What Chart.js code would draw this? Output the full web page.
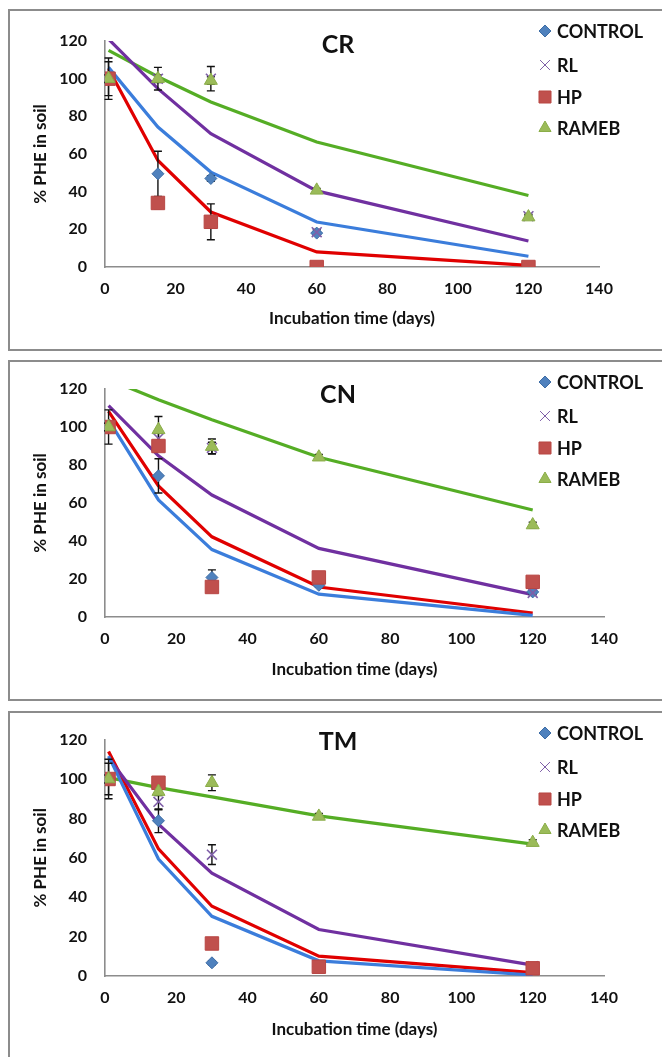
<!DOCTYPE html>
<html>
<head>
<meta charset="utf-8">
<script src="https://cdn.jsdelivr.net/npm/chart.js@4"></script>
<style>
body { margin: 0; width: 662px; height: 1057px; overflow: hidden; background: #fff; position: relative; }
.box { position: absolute; left: 8px; width: 700px; box-sizing: border-box; border: 2px solid #8c8c8c; }
canvas { position: absolute; left: 0; }
</style>
</head>
<body>
<div class="box" style="top:9px;height:342px"></div>
<div class="box" style="top:360px;height:341px"></div>
<div class="box" style="top:711px;height:400px"></div>
<canvas id="cr" width="662" height="340" style="top:10px"></canvas>
<canvas id="cn" width="662" height="340" style="top:361px"></canvas>
<canvas id="tm" width="662" height="349" style="top:712px"></canvas>
<script>
var days = [1, 15, 30, 60, 120];
var seriesNames = ['CONTROL', 'RL', 'HP', 'RAMEB'];

// CR - measured points, error bars and fitted curves
var crControl = [100, 49.5, 47, 18, 0];
var crControlErr = [9, 12, 1.5, 1, 0];
var crRL = [100, 100, 100, 18.5, 27];
var crRLErr = [11, 6, 6.5, 1.5, 1];
var crHP = [100, 34, 24, 0, 0];
var crHPErr = [2, 3, 9.5, 0, 0];
var crRAMEB = [100, 100, 99, 40.7, 26.5];
var crRAMEBErr = [2, 2, 2, 1, 1];
var crFitControl = [106, 74.3, 50.4, 23.9, 5.7];
var crFitRL = [121, 94.7, 70.8, 40.4, 13.8];
var crFitHP = [105.3, 56.6, 29.2, 8, 0.9];
var crFitRAMEB = [115, 101, 87.6, 66.4, 38];

// CN
var cnControl = [100, 74.3, 20.8, 16.7, 13.2];
var cnControlErr = [9, 9, 4, 1, 1];
var cnRL = [100, 94, 89, 21, 12.7];
var cnRLErr = [2, 3, 3, 1, 1];
var cnHP = [100, 90, 15.8, 20.8, 18.5];
var cnHPErr = [2, 2, 1, 3, 2];
var cnRAMEB = [100, 98.5, 89.7, 84.1, 48.4];
var cnRAMEBErr = [2, 7, 4, 1.5, 1.5];
var cnFitControl = [103.8, 61.6, 35.5, 12, 0.9];
var cnFitRL = [111.2, 84.8, 64.2, 36.1, 11.8];
var cnFitHP = [108.2, 69, 42.2, 15.8, 2.1];
var cnFitRAMEB = [125, 114.4, 103.8, 84.1, 56.3];

// TM
var tmControl = [100, 78.8, 6.7, 5, 4];
var tmControlErr = [10, 6, 1, 0.5, 0.5];
var tmRL = [100, 88.4, 61.6, 5, 5];
var tmRLErr = [8, 4, 5, 0.5, 1];
var tmHP = [100, 98.1, 16.5, 4.7, 3.9];
var tmHPErr = [2, 2, 2.5, 1, 1];
var tmRAMEB = [100, 93.6, 98.1, 81, 67.7];
var tmRAMEBErr = [2, 2, 4, 1.5, 1.5];
var tmFitControl = [111.6, 59.4, 30.3, 7.7, 0.5];
var tmFitRL = [110.8, 77.1, 52.2, 23.6, 5.5];
var tmFitHP = [114, 64.5, 35.4, 10.1, 1.7];
var tmFitRAMEB = [100.7, 95.6, 90.9, 81.3, 66.9];

var xTicks = [0, 20, 40, 60, 80, 100, 120, 140];
var yTicks = [0, 20, 40, 60, 80, 100, 120];

// styles
var lineColors = ['#3b7ddb', '#7030a0', '#e00000', '#55ad25'];
var markers = [
    { pointStyle: 'rectRot', radius: 6, color: '#4f81bd', border: '#3d6da6' },
    { pointStyle: 'crossRot', radius: 7, color: '#7f5fa8', border: '#7f5fa8' },
    { pointStyle: 'rect', radius: 9.5, color: '#c0504d', border: '#b84643' },
    { pointStyle: 'triangle', radius: 7.5, color: '#9bbb59', border: '#8aad48' }
];
var ink = '#111';

Chart.defaults.font.family = 'Lato, "Open Sans", sans-serif';
Chart.defaults.font.weight = 'bold';

function toPoints(values) {
    return values.map(function (v, i) { return { x: days[i], y: v }; });
}

// error bars go under all markers but over the fitted lines
var errorBars = {
    id: 'errorBars',
    beforeDatasetDraw: function (chart, args) {
        if (args.index !== 4) return;
        var xs = chart.scales.x, ys = chart.scales.y, ctx = chart.ctx;
        ctx.save();
        ctx.strokeStyle = ink;
        ctx.lineWidth = 1.4;
        chart.data.datasets.forEach(function (ds) {
            if (!ds.errors) return;
            ds.data.forEach(function (p, i) {
                var e = ds.errors[i];
                if (!e) return;
                var x = xs.getPixelForValue(p.x);
                var y1 = ys.getPixelForValue(p.y + e);
                var y2 = ys.getPixelForValue(p.y - e);
                ctx.beginPath();
                ctx.moveTo(x, y1); ctx.lineTo(x, y2);
                ctx.moveTo(x - 4, y1); ctx.lineTo(x + 4, y1);
                ctx.moveTo(x - 4, y2); ctx.lineTo(x + 4, y2);
                ctx.stroke();
            });
        });
        ctx.restore();
    }
};

var panelDecor = {
    id: 'panelDecor',
    afterDraw: function (chart) {
        var o = chart.options.plugins.panelDecor;
        var ctx = chart.ctx;
        ctx.save();
        ctx.fillStyle = ink;
        ctx.textAlign = 'center';
        ctx.textBaseline = 'middle';
        ctx.font = 'bold 25px Lato, sans-serif';
        ctx.fillText(o.title, 338, o.titleY);

        ctx.font = 'bold 18px Lato, sans-serif';
        ctx.textAlign = 'left';
        var rows = [21, 55, 87, 118];
        seriesNames.forEach(function (name, i) {
            var m = markers[i];
            ctx.fillStyle = m.color;
            ctx.strokeStyle = m.border;
            Chart.helpers.drawPoint(ctx, {
                pointStyle: m.pointStyle,
                radius: i === 2 ? 8.5 : (i === 3 ? 7 : m.radius),
                rotation: 0,
                borderWidth: i === 1 ? 1.5 : 1
            }, 545, rows[i]);
            ctx.fillStyle = ink;
            ctx.fillText(name, 557, rows[i] + 1);
        });
        ctx.restore();
    }
};

function makeChart(id, title, layout, pts, errs, fits) {
    var datasets = [];
    fits.forEach(function (f, i) {
        datasets.push({
            label: seriesNames[i] + ' fit',
            data: toPoints(f),
            showLine: true,
            borderColor: lineColors[i],
            borderWidth: 3.2,
            pointRadius: 0,
            tension: 0,
            order: 10
        });
    });
    pts.forEach(function (p, i) {
        var m = markers[i];
        datasets.push({
            label: seriesNames[i],
            data: toPoints(p),
            errors: errs[i],
            showLine: false,
            pointStyle: m.pointStyle,
            pointRadius: m.radius,
            backgroundColor: m.color,
            borderColor: m.border,
            pointBorderWidth: i === 1 ? 1.6 : 1,
            order: 4 - i
        });
    });

    return new Chart(document.getElementById(id), {
        type: 'scatter',
        data: { datasets: datasets },
        options: {
            responsive: false,
            animation: false,
            layout: { padding: { top: layout.padTop, right: layout.padRight, bottom: 0, left: 0 } },
            plugins: {
                legend: { display: false },
                tooltip: { enabled: false },
                panelDecor: { title: title, titleY: layout.titleY }
            },
            scales: {
                x: {
                    type: 'linear',
                    min: xTicks[0],
                    max: xTicks[xTicks.length - 1],
                    afterBuildTicks: function (s) { s.ticks = xTicks.map(function (v) { return { value: v }; }); },
                    ticks: { padding: 12, color: ink, font: { size: 16, weight: 'bold' } },
                    grid: { display: false, drawTicks: false },
                    border: { color: '#8c8c8c', width: 1.6 },
                    title: { display: true, text: 'Incubation time (days)', color: ink, font: { size: 17, weight: 'bold' }, padding: { top: 0, bottom: 21 } },
                    afterFit: function (s) { s.height = layout.xHeight; }
                },
                y: {
                    min: yTicks[0],
                    max: yTicks[yTicks.length - 1],
                    afterBuildTicks: function (s) { s.ticks = yTicks.map(function (v) { return { value: v }; }); },
                    ticks: { padding: 18, color: ink, font: { size: 16, weight: 'bold' } },
                    grid: { display: false, drawTicks: false },
                    border: { color: '#8c8c8c', width: 1.6 },
                    title: { display: true, text: '% PHE in soil', color: ink, font: { size: 17, weight: 'bold' }, padding: { top: 30, bottom: 0 } },
                    afterFit: function (s) { s.width = 105; }
                }
            }
        },
        plugins: [errorBars, panelDecor]
    });
}

makeChart('cr', 'CR', { padTop: 31, padRight: 63, xHeight: 83, titleY: 35 },
    [crControl, crRL, crHP, crRAMEB],
    [crControlErr, crRLErr, crHPErr, crRAMEBErr],
    [crFitControl, crFitRL, crFitHP, crFitRAMEB]);

makeChart('cn', 'CN', { padTop: 28, padRight: 58, xHeight: 84, titleY: 34 },
    [cnControl, cnRL, cnHP, cnRAMEB],
    [cnControlErr, cnRLErr, cnHPErr, cnRAMEBErr],
    [cnFitControl, cnFitRL, cnFitHP, cnFitRAMEB]);

makeChart('tm', 'TM', { padTop: 26, padRight: 58, xHeight: 85, titleY: 30 },
    [tmControl, tmRL, tmHP, tmRAMEB],
    [tmControlErr, tmRLErr, tmHPErr, tmRAMEBErr],
    [tmFitControl, tmFitRL, tmFitHP, tmFitRAMEB]);
</script>
</body>
</html>
